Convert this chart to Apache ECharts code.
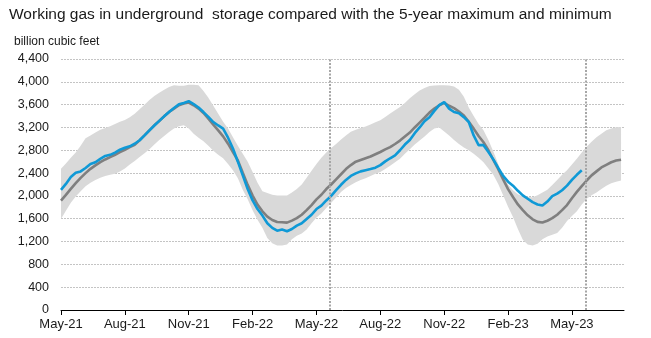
<!DOCTYPE html>
<html>
<head>
<meta charset="utf-8">
<script src="https://cdn.jsdelivr.net/npm/echarts@6/dist/echarts.min.js"></script>
<style>
  html, body { margin: 0; padding: 0; background: #ffffff; }
  #chart { width: 651px; height: 338px; }
</style>
</head>
<body>
<div id="chart"></div>
<script>
// Weekly working gas in storage (billion cubic feet), week 0 = mid-May 2021
const storage = [
  2105, 2210, 2330, 2405, 2430, 2490, 2560, 2590, 2650, 2700,
  2720, 2760, 2810, 2845, 2870, 2915, 2975, 3060, 3150, 3235,
  3315, 3395, 3470, 3540, 3605, 3630, 3660, 3610, 3550, 3470,
  3385, 3295, 3235, 3180, 3020, 2830, 2600, 2360, 2120, 1920,
  1770, 1655, 1520, 1440, 1390, 1410, 1380, 1420, 1480, 1520,
  1595, 1670, 1770, 1830, 1920, 2000, 2100, 2195, 2280, 2350,
  2395, 2430, 2450, 2470, 2495, 2540, 2605, 2660, 2710, 2800,
  2900, 2980, 3100, 3200, 3310, 3380, 3490, 3590, 3645, 3530,
  3470, 3450, 3380, 3296, 3060, 2890, 2890, 2770, 2640, 2490,
  2350, 2250, 2180, 2090, 2010, 1950, 1890, 1850, 1830, 1900,
  1995, 2040, 2100, 2180, 2280, 2370, 2450
];

// 5-year average
const fiveYearAvg = [
  1918, 2018, 2123, 2223, 2317, 2399, 2475, 2534, 2592, 2639,
  2680, 2721, 2768, 2809, 2856, 2897, 2974, 3061, 3150, 3237,
  3314, 3396, 3472, 3530, 3590, 3620, 3636, 3589, 3531, 3454,
  3355, 3249, 3150, 3044, 2915, 2768, 2622, 2405, 2193, 2006,
  1847, 1730, 1636, 1578, 1542, 1537, 1531, 1566, 1610, 1670,
  1750, 1840, 1940, 2020, 2120, 2200, 2290, 2380, 2470, 2540,
  2600, 2630, 2660, 2690, 2730, 2770, 2815, 2856, 2910, 2970,
  3040, 3110, 3200, 3285, 3370, 3460, 3530, 3590, 3630, 3580,
  3540, 3480, 3410, 3300, 3180, 3050, 2940, 2800, 2630, 2470,
  2290, 2120, 1980, 1850, 1750, 1660, 1590, 1545, 1535, 1565,
  1610, 1670, 1750, 1840, 1960, 2070, 2170, 2270, 2360, 2430,
  2500, 2545, 2590, 2620, 2635
];

// 5-year maximum
const fiveYearMax = [
  2475, 2570, 2670, 2760, 2880, 3010, 3060, 3110, 3160, 3190,
  3220, 3260, 3300, 3330, 3380, 3440, 3520, 3600, 3680, 3750,
  3810, 3860, 3910, 3940, 3930, 3930, 3950, 3950, 3940, 3840,
  3720, 3580, 3440, 3300, 3180, 3030, 2880, 2740, 2600, 2420,
  2230, 2080, 2050, 2020, 2005, 2005, 2005, 2060, 2120, 2200,
  2320, 2440, 2560, 2670, 2760, 2840, 2910, 2990, 3060, 3125,
  3160, 3190, 3215, 3250, 3290, 3325, 3385, 3445, 3500, 3560,
  3630, 3710, 3780, 3850, 3890, 3925, 3935, 3940, 3940, 3935,
  3920, 3860, 3740, 3550, 3400, 3260, 3150, 2980, 2780, 2560,
  2340, 2200, 2100, 2030, 1990, 1980, 1975, 2010, 2060, 2110,
  2190, 2280, 2370, 2450, 2550, 2650, 2760, 2860, 2950, 3030,
  3090, 3150, 3180, 3205, 3210
];

// 5-year minimum
const fiveYearMin = [
  1595, 1740, 1880, 1990, 2080, 2170, 2230, 2280, 2320, 2350,
  2370, 2390, 2430, 2480, 2550, 2610, 2680, 2750, 2820, 2900,
  2980, 3050, 3120, 3180, 3220, 3240, 3180, 3090, 3020, 2960,
  2880, 2790, 2720, 2660, 2560, 2450, 2310, 2110, 1940, 1750,
  1580, 1440, 1260, 1170, 1130, 1130, 1150, 1240, 1300, 1340,
  1410, 1520, 1620, 1690, 1790, 1880, 1970, 2070, 2140, 2190,
  2240, 2280, 2310, 2350, 2390, 2420, 2470, 2530, 2590, 2650,
  2740, 2820, 2900, 2970, 3040, 3120, 3180, 3200, 3130, 3060,
  2980, 2910, 2850, 2800, 2740, 2670, 2590, 2480, 2370, 2210,
  2010, 1810, 1630, 1420, 1230, 1150, 1130, 1160, 1240, 1290,
  1320, 1350, 1440, 1560, 1650, 1730, 1850, 1950, 2010, 2060,
  2120, 2180, 2220, 2250, 2270
];

// Quarterly date labels and the week they sit on
const tickLabels = ['May-21', 'Aug-21', 'Nov-21', 'Feb-22', 'May-22', 'Aug-22', 'Nov-22', 'Feb-23', 'May-23'];
const tickWeeks = [0, 13, 26, 39, 52, 65, 78, 91, 104];

// Current-week markers (this year and a year earlier)
const markerWeeks = [54.8, 106.9];

const FONT = '"Liberation Sans", Arial, sans-serif';

const pairs = arr => arr.map((v, i) => [i, v]);

const chart = echarts.init(document.getElementById('chart'), null, { renderer: 'canvas' });

// Shaded 5-year range: one polygon along the maximum, back along the minimum
function renderRange(params, api) {
  if (params.dataIndex !== 0) return null;
  const upper = fiveYearMax.map((v, i) => api.coord([i, v]));
  const lower = fiveYearMin.map((v, i) => api.coord([i, v])).reverse();
  return {
    type: 'polygon',
    shape: { points: upper.concat(lower) },
    style: { fill: '#d9d9d9', stroke: null },
    silent: true
  };
}

chart.setOption({
  animation: false,
  backgroundColor: '#ffffff',
  title: {
    text: 'Working gas in underground  storage compared with the 5-year maximum and minimum',
    left: 9,
    top: 7,
    padding: 0,
    textStyle: { fontFamily: FONT, fontSize: 15.5, fontWeight: 'normal', color: '#1a1a1a' }
  },
  graphic: [{
    type: 'text',
    left: 14,
    top: 36,
    style: { text: 'billion cubic feet', font: '12px ' + FONT, fill: '#1a1a1a' }
  }],
  grid: { left: 61, right: 27, top: 59, bottom: 28, containLabel: false },
  xAxis: {
    type: 'value',
    min: 0,
    max: 114.6,
    interval: 13,
    splitLine: { show: false },
    axisLine: { show: true, lineStyle: { color: '#000000', width: 1 } },
    axisTick: {
      show: true, length: 5, inside: false,
      lineStyle: { color: '#000000', width: 1 },
      customValues: tickWeeks
    },
    axisLabel: {
      customValues: tickWeeks,
      margin: 8,
      fontFamily: FONT,
      fontSize: 13,
      color: '#1a1a1a',
      formatter: v => {
        const k = tickWeeks.indexOf(Math.round(v));
        return k >= 0 ? tickLabels[k] : '';
      }
    }
  },
  yAxis: {
    type: 'value',
    min: 0,
    max: 4400,
    interval: 400,
    axisLine: { show: false },
    axisTick: { show: false },
    splitLine: { show: true, lineStyle: { color: '#c4c4c4', width: 1, type: [2, 1] } },
    axisLabel: {
      margin: 12,
      fontFamily: FONT,
      fontSize: 12.5,
      color: '#1a1a1a',
      formatter: v => v.toLocaleString('en-US')
    }
  },
  series: [
    {
      name: '5-year maximum - minimum range',
      type: 'custom',
      renderItem: renderRange,
      data: [[0, fiveYearMax[0]]],
      silent: true,
      z: 1
    },
    {
      name: '5-year average',
      type: 'line',
      data: pairs(fiveYearAvg),
      symbol: 'none',
      lineStyle: { color: '#7f7f7f', width: 2.6 },
      z: 3,
      markLine: {
        silent: true,
        symbol: 'none',
        label: { show: false },
        lineStyle: { color: '#a6a6a6', width: 2, type: [2, 1.5] },
        data: markerWeeks.map(w => [{ coord: [w, 0] }, { coord: [w, 4400] }])
      }
    },
    {
      name: 'Working gas in storage',
      type: 'line',
      data: pairs(storage),
      symbol: 'none',
      lineStyle: { color: '#0f99d6', width: 2.6 },
      z: 4
    }
  ]
});
</script>
</body>
</html>
